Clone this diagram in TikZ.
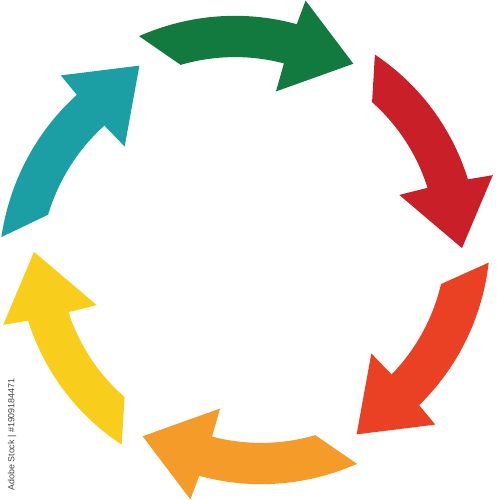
\documentclass[tikz,border=0pt]{standalone}
\usepackage{fontspec}
\setsansfont{Liberation Sans}
\definecolor{cgreen}{RGB}{19,122,63}
\definecolor{cred}{RGB}{201,31,41}
\definecolor{corange}{RGB}{234,64,36}
\definecolor{camber}{RGB}{244,155,42}
\definecolor{cyellow}{RGB}{249,205,27}
\definecolor{cteal}{RGB}{27,159,164}
\tikzset{
  watermark/.style={rotate=90, text={rgb,255:red,70;green,70;blue,70}, font=\sffamily\fontsize{8.9}{9}\selectfont, inner sep=0pt}
}
\begin{document}
\begin{tikzpicture}[x=1pt,y=1pt]
\useasboundingbox (0,0) rectangle (496,500);
\coordinate (c) at (248,250);
\foreach \a/\col/\Ro/\Ri in {0/cred/233/193, -60/corange/241/196, -120/camber/240/197, 180/cyellow/232/192, 120/cteal/247/203, 60/cgreen/240/197}{
  \fill[\col, shift={(c)}]
    (\a+57:\Ro)
    -- plot[domain=1:0, samples=40, variable=\t] ({\a+17.8+39.2*\t}:{231+(\Ro-231)*\t})
    -- (\a+17:256) -- (\a+0.5:214) -- (\a+20:161) -- (\a+19.1:190)
    -- plot[domain=0:1, samples=40, variable=\t] ({\a+19.1+30.9*\t}:{190+(\Ri-190)*\t})
    -- cycle;
}
\node[watermark] (wm) at (12,65.5) {Adobe Stock | \#1909184471};
\end{tikzpicture}
\end{document}
